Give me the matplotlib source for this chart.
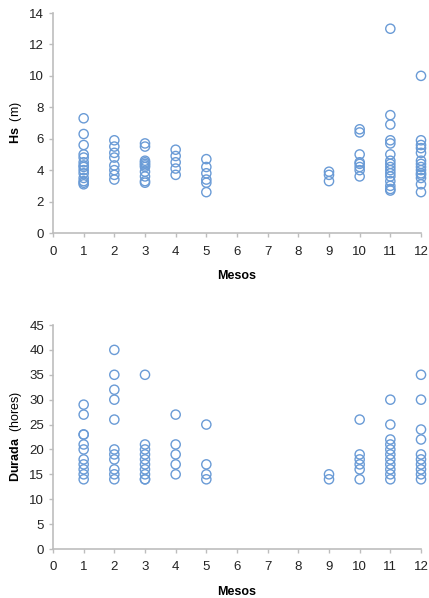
import numpy as np
import matplotlib.pyplot as plt

plt.rcParams['font.family'] = ['Liberation Sans', 'DejaVu Sans']
plt.rcParams['mathtext.fontset'] = 'custom'
plt.rcParams['mathtext.rm'] = 'Liberation Sans'
plt.rcParams['mathtext.bf'] = 'Liberation Sans:bold'

# wave height per storm, grouped by month
hs = {
    1: [7.3, 6.3, 5.6, 5.0, 4.8, 4.5, 4.3, 4.2, 4.0, 3.8, 3.5, 3.3, 3.2, 3.1],
    2: [5.9, 5.5, 5.1, 4.8, 4.3, 4.0, 3.7, 3.4],
    3: [5.7, 5.5, 4.6, 4.5, 4.4, 4.3, 4.2, 3.9, 3.6, 3.3, 3.2],
    4: [5.3, 4.9, 4.5, 4.1, 3.7],
    5: [4.7, 4.2, 3.8, 3.4, 3.2, 2.6],
    9: [3.9, 3.7, 3.3],
    10: [6.6, 6.4, 5.0, 4.5, 4.4, 4.2, 4.0, 3.6],
    11: [13.0, 7.5, 6.9, 5.9, 5.7, 5.0, 4.6, 4.4, 4.2, 4.0, 3.8, 3.6, 3.3, 3.0, 2.8, 2.7],
    12: [10.0, 5.9, 5.6, 5.4, 5.1, 4.6, 4.4, 4.2, 4.0, 3.8, 3.7, 3.5, 3.1, 2.6],
}

# storm duration in hours, grouped by month
durada = {
    1: [29, 27, 23, 23, 21, 20, 18, 17, 16, 15, 14],
    2: [40, 35, 32, 30, 26, 20, 19, 18, 16, 15, 14],
    3: [35, 21, 20, 19, 18, 17, 16, 15, 14, 14],
    4: [27, 21, 19, 17, 15],
    5: [25, 17, 15, 14],
    9: [15, 14],
    10: [26, 19, 18, 17, 16, 14],
    11: [30, 25, 22, 21, 20, 19, 18, 17, 16, 15, 14],
    12: [35, 30, 24, 22, 19, 18, 17, 16, 15, 14],
}

blue = '#6a9bd6'
grey = '#bdbdbd'

fig = plt.figure(figsize=(4.29, 5.98), dpi=100)
W, H = 429, 598


def panel(box, data, ymax, ystep, ylabel):
    l, t, r, b = box
    ax = fig.add_axes([l / W, 1 - b / H, (r - l) / W, (b - t) / H])
    xs = np.concatenate([[m] * len(v) for m, v in data.items()])
    ys = np.concatenate([v for v in data.values()])
    ax.scatter(xs, ys, s=44, facecolors='none', edgecolors=blue, linewidths=1.0,
               zorder=3, clip_on=False)
    ax.set_xlim(0, 12)
    ax.set_ylim(0, ymax)
    ax.set_xticks(range(0, 13))
    ax.set_yticks(np.arange(0, ymax + 1, ystep))
    for s in ['top', 'right']:
        ax.spines[s].set_visible(False)
    for s in ['left', 'bottom']:
        ax.spines[s].set_color(grey)
        ax.spines[s].set_linewidth(1.2)
    ax.tick_params(colors=grey, labelcolor='#222222', labelsize=9.5, length=3, width=1)
    ax.tick_params(axis='x', pad=6)
    ax.set_xlabel('Mesos', fontsize=9, fontweight='bold', labelpad=9)
    ax.set_ylabel(ylabel, fontsize=9, labelpad=4)
    return ax


panel((53, 13, 421, 233), hs, 14, 2, r'$\mathbf{Hs}$  (m)')
panel((53, 325, 421, 549), durada, 45, 5, r'$\mathbf{Durada}$  (hores)')

fig.savefig('out.png', dpi=100)
